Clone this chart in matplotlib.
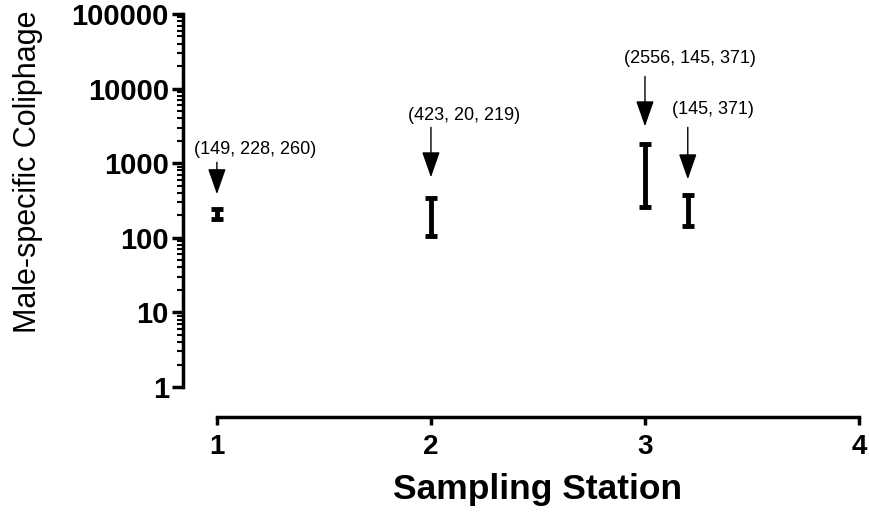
import numpy as np
import matplotlib
matplotlib.use('Agg')
import matplotlib.pyplot as plt
from matplotlib.ticker import FixedLocator, NullFormatter

plt.rcParams['font.family'] = ['Liberation Sans', 'DejaVu Sans']

# Coliphage counts per sample at each station
stations = [1, 2, 3, 3.2]
counts = [[149, 228, 260], [423, 20, 219], [2556, 145, 371], [145, 371]]
xtick_vals = [1, 2, 3, 4]
ytick_vals = [1, 10, 100, 1000, 10000, 100000]
ytick_labels = ['1', '10', '100', '1000', '10000', '100000']

# Arrow tail / tip and label placement (data coordinates)
arrow_tail = [1028, 3027, 14555, 3027]
arrow_tip = [384, 647, 3119, 608]
label_x = [1.177, 2.153, 3.209, 3.316]
label_y = [1535, 4375, 25350, 5260]

means = [np.mean(c) for c in counts]
sems = [np.std(c, ddof=1) / np.sqrt(len(c)) for c in counts]
labels = ['(' + ', '.join(str(v) for v in c) + ')' for c in counts]

fig = plt.figure(figsize=(8.69, 5.12), dpi=100)
ax = fig.add_axes([0.2102, 0.1855, 0.7783, 0.7872])

ax.errorbar(stations, means, yerr=sems, fmt='none', ecolor='black',
            elinewidth=3.5, capsize=4.5, capthick=3.5)

for x, tail, tip, tx, ty, lab in zip(stations, arrow_tail, arrow_tip,
                                      label_x, label_y, labels):
    ax.annotate('', xy=(x, tip), xytext=(x, tail),
                arrowprops=dict(arrowstyle='-|>,head_length=0.8,head_width=0.28',
                                mutation_scale=20, color='black', lw=1.0,
                                shrinkA=0, shrinkB=0))
    ax.text(tx, ty, lab, ha='center', va='center', fontsize=13)

ax.set_yscale('log')
ax.set_ylim(10 ** -0.402, 1e5)
ax.set_xlim(0.84, 4.0)

ax.set_yticks(ytick_vals)
ax.set_yticklabels(ytick_labels, fontsize=21, fontweight='bold')
# minor ticks 2..9 in every decade between 1 and 100000
minor = [m * 10 ** d for d in range(5) for m in range(2, 10)]
ax.yaxis.set_minor_locator(FixedLocator(minor))
ax.yaxis.set_minor_formatter(NullFormatter())
ax.set_xticks(xtick_vals)
ax.set_xticklabels([str(v) for v in xtick_vals], fontsize=20, fontweight='bold')

for s in ['top', 'right']:
    ax.spines[s].set_visible(False)
ax.spines['left'].set_bounds(1, 1e5)
ax.spines['bottom'].set_bounds(1, 4)
for s in ['left', 'bottom']:
    ax.spines[s].set_linewidth(2.5)

ax.tick_params(axis='y', which='major', direction='out', length=8, width=2.5, pad=2)
ax.tick_params(axis='x', which='major', direction='out', length=6, width=2.5, pad=6)
ax.tick_params(axis='y', which='minor', direction='out', length=4, width=1.5)

fig.text(28 / 869, 1 - 172 / 512, 'Male-specific Coliphage', rotation=90,
         ha='center', va='center', fontsize=22)
fig.text(538 / 869, 1 - 490 / 512, 'Sampling Station', ha='center', va='center',
         fontsize=25.5, fontweight='bold')

fig.savefig('out.png', dpi=100, facecolor='white')
